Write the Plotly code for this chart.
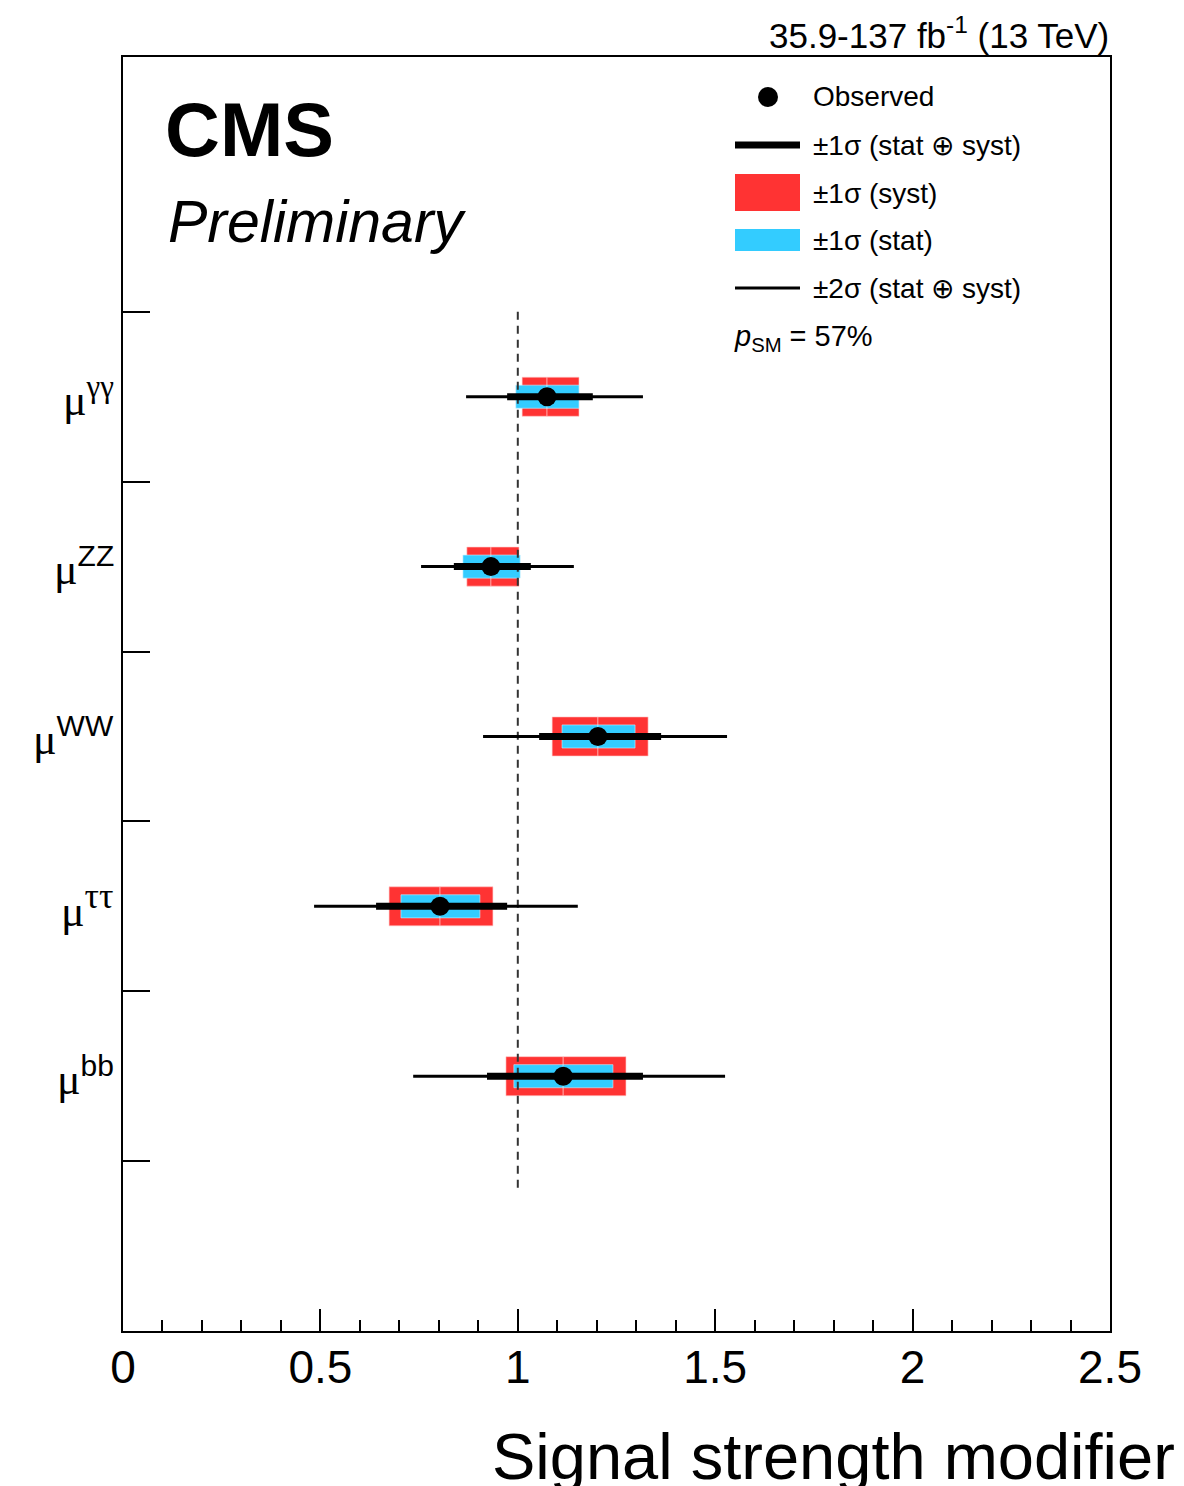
import plotly.graph_objects as go

# ---------------- data ----------------
channels = ["bb", "ττ", "WW", "ZZ", "γγ"]
sup_text = ["bb", "ττ", "WW", "ZZ", "γγ"]
ypos = [0.5, 1.5, 2.5, 3.5, 4.5]
best = [1.115, 0.803, 1.203, 0.932, 1.074]
syst_lo = [0.970, 0.674, 1.087, 0.871, 1.011]
syst_hi = [1.274, 0.937, 1.330, 1.003, 1.155]
stat_lo = [0.990, 0.704, 1.112, 0.861, 0.995]
stat_hi = [1.241, 0.904, 1.297, 1.006, 1.155]
tot1_lo = [0.922, 0.641, 1.054, 0.838, 0.973]
tot1_hi = [1.317, 0.973, 1.363, 1.033, 1.190]
tot2_lo = [0.735, 0.484, 0.912, 0.755, 0.869]
tot2_hi = [1.525, 1.152, 1.530, 1.142, 1.317]
x_ticks = [0, 0.5, 1, 1.5, 2, 2.5]
x_ticklabels = ["0", "0.5", "1", "1.5", "2", "2.5"]
y_ticks = [0, 1, 2, 3, 4, 5]
p_sm = "57%"

RED = "#ff3333"
BLUE = "#33ccff"
FONT = "Liberation Sans"
SERIF = "Liberation Serif"
# superscript styles (font family, px size) per channel
SUP_STYLE = {"bb": (FONT, 30), "ττ": (SERIF, 36), "WW": (FONT, 30),
             "ZZ": (FONT, 30), "γγ": (SERIF, 31)}

# page is offset by the 8px body margin
OFF = 8
W, H = 1184 - OFF, 1486 - OFF
L, R, T, B = 123, 1110, 57, 1331   # plot area in screenshot pixels


def px(x):
    return (x - L) / (R - L)


def py(y):
    return (B - y) / (B - T)


fig = go.Figure()
shapes = []
SYST_H = 0.115
STAT_H = 0.068

for i in range(len(channels)):
    y = ypos[i]
    for a, b in [(syst_lo[i], best[i]), (best[i], syst_hi[i])]:
        shapes.append(dict(type="rect", xref="x", yref="y", x0=a, x1=b,
                           y0=y - SYST_H, y1=y + SYST_H, fillcolor=RED,
                           line=dict(color="rgba(255,200,200,0.6)", width=1), layer="below"))
    for a, b in [(stat_lo[i], best[i]), (best[i], stat_hi[i])]:
        shapes.append(dict(type="rect", xref="x", yref="y", x0=a, x1=b,
                           y0=y - STAT_H, y1=y + STAT_H, fillcolor=BLUE,
                           line=dict(color="rgba(200,240,255,0.6)", width=1), layer="below"))
    fig.add_trace(go.Scatter(x=[tot2_lo[i], tot2_hi[i]], y=[y, y], mode="lines",
                             line=dict(color="black", width=3), showlegend=False, hoverinfo="skip"))
    fig.add_trace(go.Scatter(x=[tot1_lo[i], tot1_hi[i]], y=[y, y], mode="lines",
                             line=dict(color="black", width=7), showlegend=False, hoverinfo="skip"))

fig.add_trace(go.Scatter(x=best, y=ypos, mode="markers",
                         marker=dict(color="black", size=19, symbol="circle"),
                         showlegend=False, hoverinfo="skip"))

# SM reference line
shapes.append(dict(type="line", xref="x", yref="y", x0=1, x1=1, y0=5, y1=-0.18,
                   line=dict(color="#333333", width=2, dash="8px,6px"), layer="below"))

# ---------------- legend (manual) ----------------
shapes.append(dict(type="circle", xref="paper", yref="paper",
                   x0=px(758), x1=px(778), y0=py(107), y1=py(87),
                   fillcolor="black", line=dict(width=0)))
shapes.append(dict(type="line", xref="paper", yref="paper", x0=px(735), x1=px(800),
                   y0=py(145), y1=py(145), line=dict(color="black", width=7)))
shapes.append(dict(type="rect", xref="paper", yref="paper", x0=px(735), x1=px(800),
                   y0=py(211), y1=py(174), fillcolor=RED, line=dict(width=0)))
shapes.append(dict(type="rect", xref="paper", yref="paper", x0=px(735), x1=px(800),
                   y0=py(251), y1=py(229), fillcolor=BLUE, line=dict(width=0)))
shapes.append(dict(type="line", xref="paper", yref="paper", x0=px(735), x1=px(800),
                   y0=py(288), y1=py(288), line=dict(color="black", width=3)))

leg_texts = ["Observed", "±1σ (stat ⊕ syst)", "±1σ (syst)", "±1σ (stat)", "±2σ (stat ⊕ syst)"]
leg_y = [97, 145, 193, 241, 288]
annotations = []
for t, yy in zip(leg_texts, leg_y):
    annotations.append(dict(text=t, xref="paper", yref="paper", x=px(811), y=py(yy),
                            xanchor="left", yanchor="middle", showarrow=False,
                            font=dict(family=FONT, size=28, color="black")))
annotations.append(dict(text="<i>p</i><sub>SM</sub> = " + p_sm, xref="paper", yref="paper",
                        x=px(732), y=py(338), xanchor="left", yanchor="middle", showarrow=False,
                        font=dict(family=FONT, size=29, color="black")))

annotations.append(dict(text="<b>CMS</b>", xref="paper", yref="paper", x=px(163), y=py(130),
                        xanchor="left", yanchor="middle", showarrow=False,
                        font=dict(family=FONT, size=76, color="black")))
annotations.append(dict(text="<i>Preliminary</i>", xref="paper", yref="paper", x=px(166), y=py(222),
                        xanchor="left", yanchor="middle", showarrow=False,
                        font=dict(family=FONT, size=59, color="black")))
annotations.append(dict(text="35.9-137 fb<sup>-1</sup> (13 TeV)", xref="paper", yref="paper",
                        x=px(1111), y=py(33), xanchor="right", yanchor="middle", showarrow=False,
                        font=dict(family=FONT, size=35, color="black")))
annotations.append(dict(text="Signal strength modifier", xref="paper", yref="paper",
                        x=px(1177), y=py(1456), xanchor="right", yanchor="middle", showarrow=False,
                        font=dict(family=FONT, size=65, color="black")))

for s, yy in zip(sup_text, ypos):
    fam, sz = SUP_STYLE[s]
    lab = ("μ<sup><span style='font-family:%s;font-size:%dpx'>%s</span></sup>" % (fam, sz, s))
    annotations.append(dict(text=lab, xref="paper", yref="y", x=px(116), y=yy,
                            xanchor="right", yanchor="middle", showarrow=False,
                            font=dict(family=SERIF, size=44, color="black")))

fig.update_layout(
    width=W, height=H,
    margin=dict(l=L - OFF, r=W - (R - OFF), t=T - OFF, b=H - (B - OFF), pad=0),
    paper_bgcolor="white", plot_bgcolor="white",
    shapes=shapes, annotations=annotations, showlegend=False,
    xaxis=dict(range=[0, 2.5], tickvals=x_ticks, ticktext=x_ticklabels,
               ticks="inside", ticklen=22, tickwidth=2, tickcolor="black",
               minor=dict(dtick=0.1, ticks="inside", ticklen=11, tickwidth=2, tickcolor="black", showgrid=False),
               showgrid=False, zeroline=False, showline=True, linecolor="black", linewidth=2,
               mirror=True, ticklabelstandoff=-5,
               tickfont=dict(family=FONT, size=46, color="black")),
    yaxis=dict(range=[-1, 6.5], tickvals=y_ticks, ticktext=[""] * len(y_ticks),
               ticks="inside", ticklen=27, tickwidth=2, tickcolor="black",
               showgrid=False, zeroline=False, showline=True, linecolor="black", linewidth=2,
               mirror=True, showticklabels=True),
)

fig.write_html("out.html")
